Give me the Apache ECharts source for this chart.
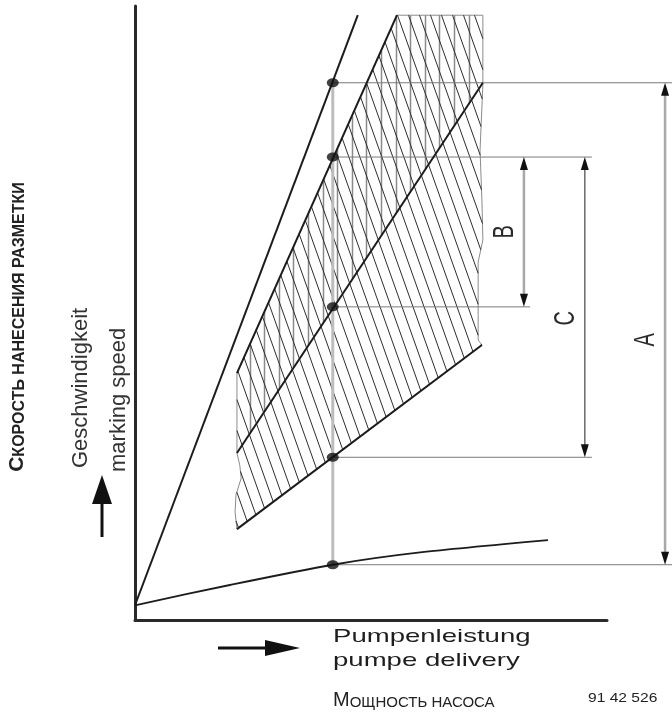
<!DOCTYPE html>
<html>
<head>
<meta charset="utf-8">
<script src="https://cdn.jsdelivr.net/npm/echarts@6/dist/echarts.min.js"></script>
<style>html,body{margin:0;padding:0;background:#fff}#c{width:672px;height:713px}</style>
</head>
<body>
<div id="c"></div>
<script>
// ---- values (axis units: pump delivery 0..100, marking speed 0..100) ----
const steepLine   = [[0, 2.4], [47.2, 98.5]];
const upperLine   = [[21.6, 40.2], [55.5, 98.5]];
const middleLine  = [[21.6, 27.2], [73.7, 87.5]];
const lowerLine   = [[21.6, 14.8], [73.5, 44.8]];
const pumpCurve   = [[0, 2.4], [20.1, 5.7], [41.9, 9.0], [60.4, 11.0], [87.5, 13.0]];
const refDelivery = 41.9;
const speedLevels = [87.5, 75.4, 51.0, 26.5, 9.0];
const levelLineEnds = [113.8, 96.8, 83.7, 96.8, 113.8];
const hatchOutline = [[21.6, 40.2], [55.5, 98.5], [73.7, 98.5], [73.7, 87.1], [73.1, 76.5], [73.5, 68.4],
  [73.7, 61.9], [72.7, 58.3], [72.7, 45.6], [73.5, 44.8], [21.6, 14.8], [21.2, 17.6], [21.4, 20.4],
  [22.5, 23.1], [22.2, 25.2], [21.6, 27.2]];
const rangeLabels = ['B', 'C', 'A'];
const rangeX      = [82.4, 95.3, 112.3];
const rangeTop    = [75.4, 75.4, 87.5];
const rangeBottom = [51.0, 26.5, 9.0];

// ---- hatch helper (styling only): strokes x = c + slope*y clipped to a pixel polygon ----
function hatchStrokes(pts, step, slope, offset) {
  const out = [];
  let minC = Infinity, maxC = -Infinity;
  for (let i = 0; i < pts.length; i++) {
    const c = pts[i][0] - slope * pts[i][1];
    if (c < minC) minC = c;
    if (c > maxC) maxC = c;
  }
  for (let c = minC + offset; c < maxC - 0.5; c += step) {
    const hits = [];
    for (let i = 0; i < pts.length; i++) {
      const a = pts[i], b = pts[(i + 1) % pts.length];
      const fa = a[0] - slope * a[1] - c, fb = b[0] - slope * b[1] - c;
      if ((fa <= 0 && fb > 0) || (fb <= 0 && fa > 0)) {
        const t = fa / (fa - fb);
        hits.push([a[0] + t * (b[0] - a[0]), a[1] + t * (b[1] - a[1])]);
      }
    }
    hits.sort((p, q) => p[1] - q[1]);
    for (let j = 0; j + 1 < hits.length; j += 2) out.push([hits[j], hits[j + 1]]);
  }
  return out;
}

const chart = echarts.init(document.getElementById('c'), null, {renderer: 'canvas'});
const FONT = '"Liberation Sans", Arial, sans-serif';
const lineStyleDark = {color: '#1c1c1c', width: 2};

function lineSeries(data, extra) {
  return Object.assign({type: 'line', data: data, symbol: 'none', silent: true, animation: false,
    lineStyle: lineStyleDark, z: 5}, extra || {});
}

const option = {
  backgroundColor: '#fff',
  animation: false,
  grid: {left: 135, top: 6, width: 472, height: 614},
  xAxis: {type: 'value', min: 0, max: 100, axisLine: {show: true, lineStyle: {color: '#2a2a2a', width: 3}},
    axisTick: {show: false}, axisLabel: {show: false}, splitLine: {show: false}},
  yAxis: {type: 'value', min: 0, max: 100, axisLine: {show: true, lineStyle: {color: '#2a2a2a', width: 3}},
    axisTick: {show: false}, axisLabel: {show: false}, splitLine: {show: false}},
  series: [
    // hatched band: diagonal hatch over whole band + vertical hatch above the middle line
    {type: 'custom', silent: true, z: 1, clip: false, data: [hatchOutline[0]],
      renderItem: function (params, api) {
        const bandPx = hatchOutline.map(p => api.coord(p).slice());
        const m0 = api.coord(middleLine[0]), m1 = api.coord(middleLine[1]);
        const midY = x => m0[1] + (x - m0[0]) * (m1[1] - m0[1]) / (m1[0] - m0[0]);
        const children = [
          {type: 'polygon', shape: {points: bandPx}, style: {fill: 'rgba(255,255,255,0)', stroke: '#8c8c8c', lineWidth: 1}}
        ];
        hatchStrokes(bandPx, 14.6, 0.0001, 14.6).forEach(s => {
          const x = Math.round(s[0][0]) + 0.5;
          const yTop = s[0][1];
          const yBot = Math.min(s[1][1], midY(x));
          if (yBot > yTop + 1) {
            children.push({type: 'line', shape: {x1: x, y1: yTop, x2: x + 0.01, y2: yBot},
              style: {stroke: '#8a8a8a', lineWidth: 1.5}});
          }
        });
        hatchStrokes(bandPx, 11, 0.355, 2).forEach(s => children.push({
          type: 'line', shape: {x1: s[0][0], y1: s[0][1], x2: s[1][0], y2: s[1][1]},
          style: {stroke: '#2e2e2e', lineWidth: 1}}));
        return {type: 'group', children: children};
      }},
    // reference vertical at chosen delivery
    lineSeries([[refDelivery, speedLevels[0]], [refDelivery, speedLevels[speedLevels.length - 1]]],
      {lineStyle: {color: '#bdbdbd', width: 3}, z: 3}),
    // horizontal level lines
    {type: 'custom', silent: true, z: 3, clip: false,
      data: speedLevels.map((y, i) => [levelLineEnds[i], y]),
      renderItem: function (params, api) {
        const a = api.coord([refDelivery, api.value(1)]);
        const b = api.coord([api.value(0), api.value(1)]);
        return {type: 'line', shape: {x1: a[0], y1: a[1], x2: b[0], y2: b[1]},
          style: {stroke: '#7a7a7a', lineWidth: 1}};
      }},
    // range arrows A/B/C
    {type: 'custom', silent: true, z: 4, clip: false,
      data: rangeLabels.map((l, i) => [rangeX[i], rangeTop[i], rangeBottom[i]]),
      renderItem: function (params, api) {
        const i = params.dataIndex;
        const t = api.coord([api.value(0), api.value(1)]);
        const b = api.coord([api.value(0), api.value(2)]);
        const hl = 13, hw = 4;
        const shaftColor = i === 1 ? '#6a6a6a' : '#a8a8a8';
        const shaftWidth = i === 1 ? 1.5 : 2.5;
        const labelDy = [0, 11, 16][i];
        return {type: 'group', children: [
          {type: 'line', shape: {x1: t[0], y1: t[1] + hl - 2, x2: b[0], y2: b[1] - hl + 2},
            style: {stroke: shaftColor, lineWidth: shaftWidth}},
          {type: 'polygon', shape: {points: [[t[0], t[1]], [t[0] - hw, t[1] + hl], [t[0] + hw, t[1] + hl]]},
            style: {fill: '#111'}},
          {type: 'polygon', shape: {points: [[b[0], b[1]], [b[0] - hw, b[1] - hl], [b[0] + hw, b[1] - hl]]},
            style: {fill: '#111'}},
          {type: 'text', x: t[0] - 19, y: (t[1] + b[1]) / 2 + labelDy, rotation: Math.PI / 2, scaleY: 1.5,
            style: {text: rangeLabels[i], fontSize: 20, fontFamily: FONT, fill: '#2a2a2a',
              align: 'center', verticalAlign: 'middle'}}
        ]};
      }},
    // main lines
    lineSeries(steepLine),
    lineSeries(upperLine),
    lineSeries(middleLine),
    lineSeries(lowerLine),
    lineSeries(pumpCurve, {smooth: 0.25, lineStyle: {color: '#1c1c1c', width: 1.8}}),
    // operating points
    {type: 'scatter', silent: true, z: 6, symbol: 'circle', symbolSize: [12, 9],
      itemStyle: {color: '#111'}, data: speedLevels.map(y => [refDelivery, y])}
  ],
  graphic: [
    {type: 'text', x: 28, y: 327, rotation: Math.PI / 2, silent: true,
      style: {text: '{b|С}{s|КОРОСТЬ НАНЕСЕНИЯ РАЗМЕТКИ}', align: 'center', verticalAlign: 'bottom',
        rich: {b: {fontSize: 21, fontWeight: 'bold', fontFamily: FONT, fill: '#222', verticalAlign: 'bottom'},
               s: {fontSize: 16, fontWeight: 'bold', fontFamily: FONT, fill: '#222', verticalAlign: 'bottom'}}}},
    {type: 'text', x: 80.5, y: 468, rotation: Math.PI / 2, silent: true,
      style: {text: 'Geschwindigkeit', font: '22px ' + FONT, fill: '#333', align: 'left', verticalAlign: 'middle'}},
    {type: 'text', x: 118.5, y: 472, rotation: Math.PI / 2, silent: true,
      style: {text: 'marking speed', font: '22px ' + FONT, fill: '#333', align: 'left', verticalAlign: 'middle'}},
    {type: 'line', silent: true, shape: {x1: 102, y1: 537, x2: 102, y2: 500}, style: {stroke: '#111', lineWidth: 3}},
    {type: 'polygon', silent: true, shape: {points: [[102, 475], [92, 504], [112, 504]]}, style: {fill: '#111'}},
    {type: 'line', silent: true, shape: {x1: 218, y1: 648, x2: 270, y2: 648}, style: {stroke: '#111', lineWidth: 3}},
    {type: 'polygon', silent: true, shape: {points: [[300, 648], [265, 640], [265, 656]]}, style: {fill: '#111'}},
    {type: 'text', x: 333, y: 637, scaleX: 1.45, silent: true,
      style: {text: 'Pumpenleistung', font: '19px ' + FONT, fill: '#1e1e1e', align: 'left', verticalAlign: 'middle'}},
    {type: 'text', x: 333, y: 661, scaleX: 1.45, silent: true,
      style: {text: 'pumpe delivery', font: '19px ' + FONT, fill: '#1e1e1e', align: 'left', verticalAlign: 'middle'}},
    {type: 'text', x: 333, y: 710, silent: true,
      style: {text: '{b|М}{s|ОЩНОСТЬ НАСОСА}', align: 'left', verticalAlign: 'bottom',
        rich: {b: {fontSize: 20, fontFamily: FONT, fill: '#222', verticalAlign: 'bottom'},
               s: {fontSize: 15, fontFamily: FONT, fill: '#222', verticalAlign: 'bottom'}}}},
    {type: 'text', x: 588, y: 698, scaleX: 1.2, silent: true,
      style: {text: '91 42 526', font: '13px ' + FONT, fill: '#222', align: 'left', verticalAlign: 'middle'}}
  ]
};
chart.setOption(option);
</script>
</body>
</html>
